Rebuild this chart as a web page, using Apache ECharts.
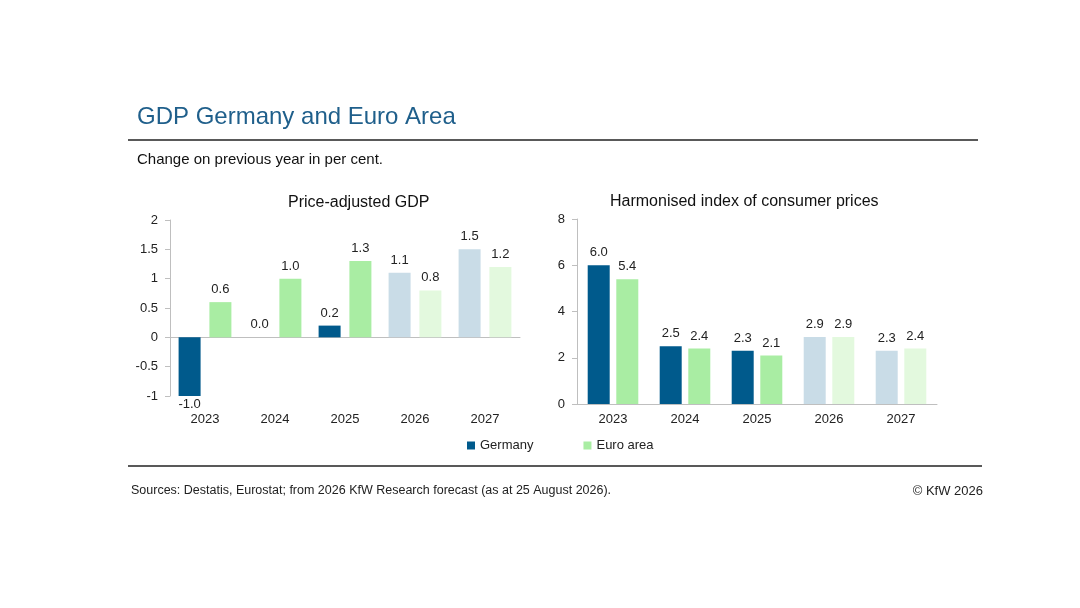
<!DOCTYPE html>
<html><head><meta charset="utf-8">
<script src="https://cdn.jsdelivr.net/npm/echarts@6/dist/echarts.min.js"></script>
<style>html,body{margin:0;background:#fff}#c{width:1080px;height:608px}</style>
</head><body><div id="c"></div>
<script>
var years = ['2023','2024','2025','2026','2027'];
var gdpGermany = [-1.0, 0.0, 0.2, 1.1, 1.5];
var gdpEuro = [0.6, 1.0, 1.3, 0.8, 1.2];
var hicpGermany = [6.0, 2.5, 2.3, 2.9, 2.3];
var hicpEuro = [5.4, 2.4, 2.1, 2.9, 2.4];
var forecastFrom = 3; // index of 2026

var cGer = '#005a8c', cGerF = '#c9dce7', cEu = '#a9eda3', cEuF = '#e3f9de';
var font = 'Liberation Sans, Arial, sans-serif';

function items(vals, base, light){
	return vals.map(function(v, i){
		var o = {value: v, itemStyle: {color: i >= forecastFrom ? light : base}};
		if (v < 0) o.label = {position: 'bottom', distance: 2};
		return o;
	});
}
function xAx(idx, margin){
	return {type:'category', gridIndex: idx, data: years,
		axisLine:{lineStyle:{color:'#bfbfbf'}}, axisTick:{lineStyle:{color:'#bfbfbf'}},
		axisLabel:{color:'#222', fontSize:13, fontFamily:font, margin:margin}};
}
function yAx(idx, min, max, step){
	return {type:'value', gridIndex: idx, min:min, max:max, interval:step, splitLine:{show:false},
		axisLine:{show:true, lineStyle:{color:'#bfbfbf'}}, axisTick:{show:true, lineStyle:{color:'#bfbfbf'}},
		axisLabel:{color:'#222', fontSize:13, fontFamily:font, margin:12}};
}
var lbl = {show:true, position:'top', color:'#222', fontSize:13, fontFamily:font, distance:6,
	formatter:function(p){return p.value.toFixed(1);}};

var chart = echarts.init(document.getElementById('c'));
chart.setOption({
	animation:false,
	grid:[{left:170, width:350, top:220, bottom:212},{left:577, width:360, top:219, bottom:204}],
	xAxis:[xAx(0,17), xAx(1,9)],
	yAxis:[yAx(0,-1,2,0.5), yAx(1,0,8,2)],
	legend:{left:462, top:434, itemWidth:8, itemHeight:8, itemGap:50, icon:'rect',
		textStyle:{fontSize:13, fontFamily:font, color:'#222'}, data:['Germany','Euro area']},
	series:[
		{name:'Germany', type:'bar', xAxisIndex:0, yAxisIndex:0, data:items(gdpGermany,cGer,cGerF), barWidth:22, barGap:'40%', label:lbl, itemStyle:{color:cGer}},
		{name:'Euro area', type:'bar', xAxisIndex:0, yAxisIndex:0, data:items(gdpEuro,cEu,cEuF), barWidth:22, barGap:'40%', label:lbl, itemStyle:{color:cEu}},
		{name:'Germany', type:'bar', xAxisIndex:1, yAxisIndex:1, data:items(hicpGermany,cGer,cGerF), barWidth:22, barGap:'30%', label:lbl, itemStyle:{color:cGer}},
		{name:'Euro area', type:'bar', xAxisIndex:1, yAxisIndex:1, data:items(hicpEuro,cEu,cEuF), barWidth:22, barGap:'30%', label:lbl, itemStyle:{color:cEu}}
	],
	graphic:[
		{type:'text', left:137, top:105, style:{text:'GDP Germany and Euro Area', fontSize:24, fontFamily:font, fill:'#1f5f8b'}},
		{type:'line', shape:{x1:128,y1:140,x2:978,y2:140}, style:{stroke:'#222', lineWidth:1.5}},
		{type:'text', left:137, top:152, style:{text:'Change on previous year in per cent.', fontSize:15, fontFamily:font, fill:'#111'}},
		{type:'text', left:288, top:195, style:{text:'Price-adjusted GDP', fontSize:16, fontFamily:font, fill:'#111'}},
		{type:'text', left:610, top:194, style:{text:'Harmonised index of consumer prices', fontSize:16, fontFamily:font, fill:'#111'}},
		{type:'line', shape:{x1:128,y1:466,x2:982,y2:466}, style:{stroke:'#222', lineWidth:1.5}},
		{type:'text', left:131, top:484, style:{text:'Sources: Destatis, Eurostat; from 2026 KfW Research forecast (as at 25 August 2026).', fontSize:12.5, fontFamily:font, fill:'#222'}},
		{type:'text', right:97, top:485, style:{text:'© KfW 2026', fontSize:13, fontFamily:font, fill:'#222'}}
	]
});
</script></body></html>
